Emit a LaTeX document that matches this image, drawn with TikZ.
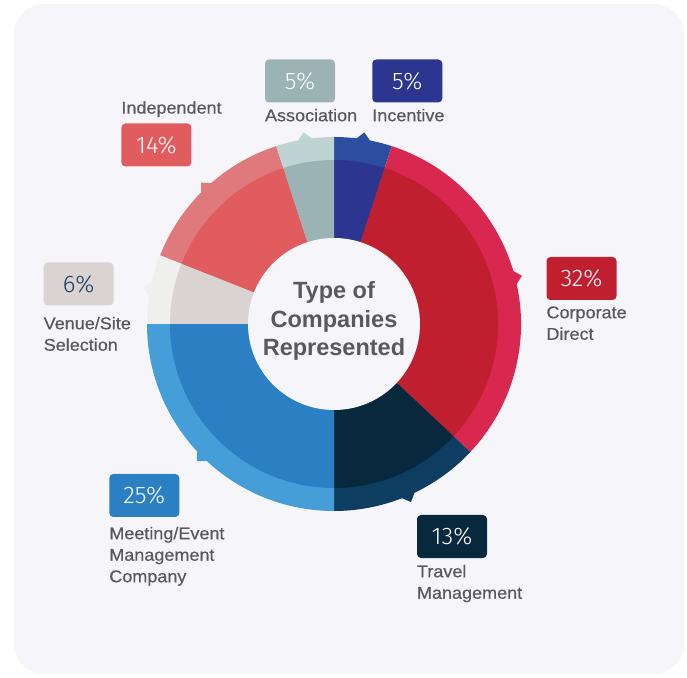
\documentclass[tikz,border=0pt]{standalone}
\usepackage{fontspec}
\setmainfont{Liberation Sans}
\newfontfamily\lblfont[FakeStretch=1.06, FakeBold=0.5]{Liberation Sans}
\newfontfamily\pctfont{Fira Sans Light}
\usepackage{xcolor}
\usetikzlibrary{positioning}

\definecolor{cardbg}{HTML}{F6F6FA}
\definecolor{labelgray}{HTML}{59595B}
\definecolor{venuetxt}{HTML}{1D3B60}
\definecolor{incin}{HTML}{2C3590}
\definecolor{incout}{HTML}{2D4EA0}
\definecolor{corin}{HTML}{C01F30}
\definecolor{corout}{HTML}{D9284F}
\definecolor{trvin}{HTML}{08293D}
\definecolor{trvout}{HTML}{0E3D62}
\definecolor{meein}{HTML}{2A80C3}
\definecolor{meeout}{HTML}{459ED8}
\definecolor{venin}{HTML}{D9D4D2}
\definecolor{venout}{HTML}{EFEFEE}
\definecolor{indin}{HTML}{E15C5F}
\definecolor{indout}{HTML}{E0797B}
\definecolor{assin}{HTML}{9CB3B5}
\definecolor{assout}{HTML}{BDD4D3}

\begin{document}
\begin{tikzpicture}[x=1pt,y=1pt]
    % Box and text styles
    \tikzstyle{pct} = [rectangle, rounded corners=4pt, minimum width=70pt, minimum height=43pt, inner sep=0pt, text=white, font=\pctfont\fontsize{24}{28}\selectfont]
    \tikzstyle{lbl} = [inner sep=0pt, align=left, text=labelgray, font=\lblfont\fontsize{17}{21.5}\selectfont]
    \tikzstyle{title} = [inner sep=0pt, align=center, text=labelgray, font=\bfseries\fontsize{23.5}{28.8}\selectfont]

    \useasboundingbox (0,0) rectangle (687,677);

    % Card
    \fill[cardbg, rounded corners=30pt] (14,3) rectangle (684,673);

    % Donut
    \begin{scope}[shift={(334,353)}]
        % Outer ring
        \fill[incout] (0,0) -- (90:187) arc[start angle=90, end angle=72, radius=187] -- cycle;
        \fill[corout] (0,0) -- (72:187) arc[start angle=72, end angle=-43.2, radius=187] -- cycle;
        \fill[trvout] (0,0) -- (-43.2:187) arc[start angle=-43.2, end angle=-90, radius=187] -- cycle;
        \fill[meeout] (0,0) -- (-90:187) arc[start angle=-90, end angle=-180, radius=187] -- cycle;
        \fill[venout] (0,0) -- (180:187) arc[start angle=180, end angle=158.4, radius=187] -- cycle;
        \fill[indout] (0,0) -- (158.4:187) arc[start angle=158.4, end angle=108, radius=187] -- cycle;
        \fill[assout] (0,0) -- (108:187) arc[start angle=108, end angle=90, radius=187] -- cycle;

        % Inner ring
        \fill[incin] (0,0) -- (90:164) arc[start angle=90, end angle=72, radius=164] -- cycle;
        \fill[corin] (0,0) -- (72:164) arc[start angle=72, end angle=-43.2, radius=164] -- cycle;
        \fill[trvin] (0,0) -- (-43.2:164) arc[start angle=-43.2, end angle=-90, radius=164] -- cycle;
        \fill[meein] (0,0) -- (-90:164) arc[start angle=-90, end angle=-180, radius=164] -- cycle;
        \fill[venin] (0,0) -- (180:164) arc[start angle=180, end angle=158.4, radius=164] -- cycle;
        \fill[indin] (0,0) -- (158.4:164) arc[start angle=158.4, end angle=108, radius=164] -- cycle;
        \fill[assin] (0,0) -- (108:164) arc[start angle=108, end angle=90, radius=164] -- cycle;

        % Pointers
        \fill[incout] (83.4:186) -- (81:194) -- (78.6:186) -- cycle;
        \fill[corout] (16.8:186) -- (14.4:194) -- (12:186) -- cycle;
        \fill[trvout] (-64.2:186) -- (-66.6:194) -- (-69:186) -- cycle;
        \fill[meeout] (-132.6:186) -- (-135:194) -- (-137.4:186) -- cycle;
        \fill[venout] (171.6:186) -- (169.2:194) -- (166.8:186) -- cycle;
        \fill[indout] (135.6:186) -- (133.2:194) -- (130.8:186) -- cycle;
        \fill[assout] (101.4:186) -- (99:194) -- (96.6:186) -- cycle;

        % Centre
        \fill[cardbg] (0,0) circle[radius=86];
    \end{scope}

    \node[title] (title) at (334,356) {Type of\\Companies\\Represented};

    % Top labels
    \node[pct, fill=incin] (incbox) at (407.3,596) {5\%};
    \node[lbl, below=6pt of incbox.south west, anchor=north west] (inclbl) {Incentive};
    \node[pct, fill=assin] (assbox) at (300,596) {5\%};
    \node[lbl, below=6pt of assbox.south west, anchor=north west] (asslbl) {Association};
    \node[pct, fill=indin] (indbox) at (156.4,532) {14\%};
    \node[lbl, above=6pt of indbox.north west, anchor=south west] (indlbl) {Independent};

    % Left labels
    \node[pct, fill=venin, text=venuetxt] (venbox) at (78.7,393) {6\%};
    \node[lbl, below=11pt of venbox.south west, anchor=north west] (venlbl) {Venue/Site\\Selection};
    \node[pct, fill=meein] (meebox) at (144.3,181.5) {25\%};
    \node[lbl, below=9.5pt of meebox.south west, anchor=north west] (meelbl) {Meeting/Event\\Management\\Company};

    % Right labels
    \node[pct, fill=corin] (corbox) at (581.5,398.5) {32\%};
    \node[lbl, below=6pt of corbox.south west, anchor=north west] (corlbl) {Corporate\\Direct};
    \node[pct, fill=trvin] (trvbox) at (452,140.5) {13\%};
    \node[lbl, below=6.5pt of trvbox.south west, anchor=north west] (trvlbl) {Travel\\Management};
\end{tikzpicture}
\end{document}
